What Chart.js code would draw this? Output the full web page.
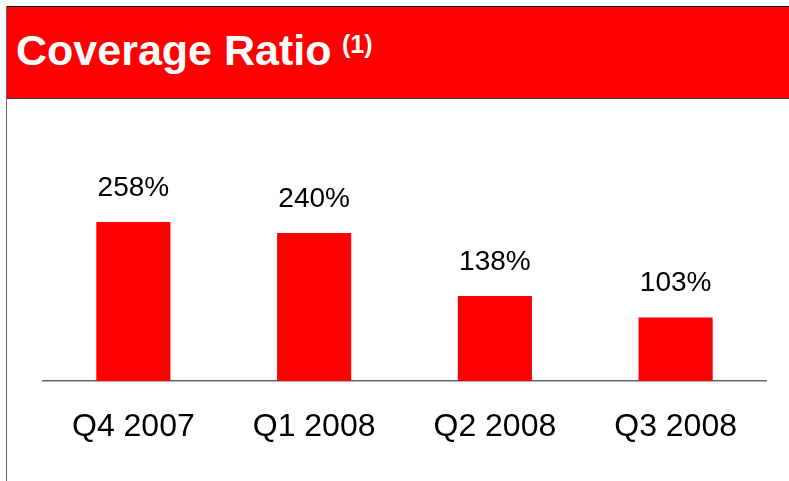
<!DOCTYPE html>
<html>
<head>
<meta charset="utf-8">
<script src="https://cdn.jsdelivr.net/npm/chart.js@4/dist/chart.umd.min.js"></script>
<style>
  html, body { margin: 0; padding: 0; background: #fff; }
  body { width: 789px; height: 481px; position: relative; overflow: hidden; font-family: "Liberation Sans", Arial, sans-serif; }
  #topline { position: absolute; left: 6px; top: 6px; width: 783px; height: 1px; background: #111; }
  #leftline { position: absolute; left: 6px; top: 6px; width: 1px; height: 475px; background: #666; }
  #band { position: absolute; left: 7px; top: 7px; width: 782px; height: 91px; background: #ff0000; border-bottom: 1px solid #444; }
  .title { position: absolute; color: #fff; font-weight: bold; line-height: 1; white-space: nowrap; }
  #title { left: 16px; top: 29px; font-size: 43px; }
  #note { left: 342px; top: 32px; font-size: 25px; }
  #chart { position: absolute; left: 0; top: 0; }
</style>
</head>
<body>
<div id="topline"></div>
<div id="leftline"></div>
<div id="band"></div>
<div class="title" id="title">Coverage Ratio</div>
<div class="title" id="note">(1)</div>
<canvas id="chart" width="789" height="481"></canvas>
<script>
const quarters = ['Q4 2007', 'Q1 2008', 'Q2 2008', 'Q3 2008'];
const coverage = [258, 240, 138, 103];

// percentage text above each bar
const valueLabels = {
  id: 'valueLabels',
  afterDatasetsDraw(chart) {
    const ctx = chart.ctx;
    const meta = chart.getDatasetMeta(0);
    ctx.save();
    ctx.font = '28px "Liberation Sans", Arial, sans-serif';
    ctx.fillStyle = '#000';
    ctx.textAlign = 'center';
    ctx.textBaseline = 'middle';
    meta.data.forEach((bar, i) => {
      ctx.fillText(coverage[i] + '%', bar.x, bar.y - 34);
    });
    ctx.restore();
  }
};

new Chart(document.getElementById('chart'), {
  type: 'bar',
  data: {
    labels: quarters,
    datasets: [{
      data: coverage,
      backgroundColor: '#ff0000',
      borderWidth: 0,
      barPercentage: 0.41,
      categoryPercentage: 1
    }]
  },
  options: {
    responsive: false,
    animation: false,
    devicePixelRatio: 1,
    layout: { padding: { top: 196, left: 43, right: 23, bottom: 0 } },
    plugins: { legend: { display: false }, tooltip: { enabled: false } },
    scales: {
      x: {
        grid: { display: false, drawTicks: false },
        border: { display: true, color: '#666', width: 1.5 },
        ticks: {
          color: '#000',
          padding: 27,
          font: { family: '"Liberation Sans", Arial, sans-serif', size: 32 }
        },
        afterFit(scale) { scale.height = 100; }
      },
      y: {
        display: false,
        min: 0,
        max: 300
      }
    }
  },
  plugins: [valueLabels]
});
</script>
</body>
</html>
